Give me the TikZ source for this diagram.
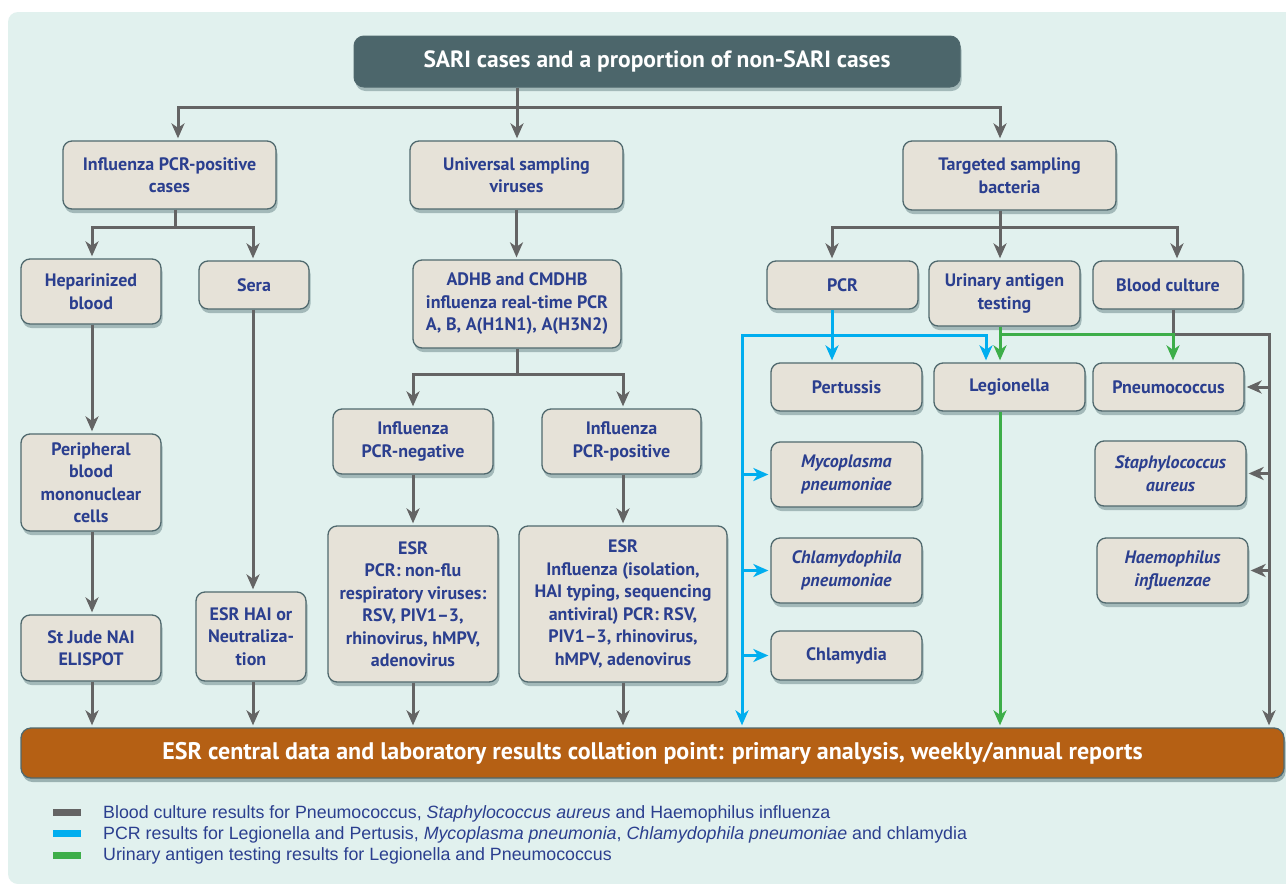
\documentclass[tikz,border=0pt]{standalone}
\usepackage{fontspec}
\setmainfont{PT Sans}
\newfontfamily\legfont{Liberation Sans}
\usetikzlibrary{arrows.meta,shadows}
\definecolor{panelc}{HTML}{E1F1EE}
\definecolor{boxfill}{HTML}{E6E2D8}
\definecolor{boxline}{HTML}{50696E}
\definecolor{txtblue}{HTML}{2B3F8F}
\definecolor{sarifill}{HTML}{4C666B}
\definecolor{esrfill}{HTML}{B56014}
\definecolor{gcol}{HTML}{646464}
\definecolor{bcol}{HTML}{00AEEF}
\definecolor{gncol}{HTML}{3DAE49}
\definecolor{shadowc}{HTML}{46666B}
\begin{document}
\begin{tikzpicture}[x=1pt,y=-1pt,
  bx/.style={draw=boxline, line width=1.3pt, fill=boxfill, rounded corners=9pt,
    text=txtblue, font=\bfseries\fontsize{18}{22.5}\selectfont, align=center, inner sep=0pt,
    drop shadow={shadow xshift=1.5pt, shadow yshift=-4pt, fill=shadowc, opacity=0.4}},
  itbx/.style={bx, font=\bfseries\itshape\fontsize{18}{22.5}\selectfont},
  topbx/.style={draw=boxline, line width=1pt, fill=sarifill, rounded corners=10pt,
    text=white, font=\bfseries\fontsize{23.5}{26}\selectfont, inner sep=0pt,
    drop shadow={shadow xshift=1.5pt, shadow yshift=-4pt, fill=shadowc, opacity=0.4}},
  esrbx/.style={draw=boxline, line width=1.3pt, fill=esrfill, rounded corners=10pt,
    text=white, font=\bfseries\fontsize{24}{26}\selectfont, inner sep=0pt,
    drop shadow={shadow xshift=1.5pt, shadow yshift=-4pt, fill=shadowc, opacity=0.45}},
  tipg/.style={-{Stealth[length=15pt,width=13pt,inset=4.5pt]}, shorten >=2pt},
  gline/.style={draw=gcol, line width=3pt},
  garr/.style={gline, tipg},
  bline/.style={draw=bcol, line width=3pt},
  barr/.style={bline, tipg},
  gnline/.style={draw=gncol, line width=3pt},
  gnarr/.style={gnline, tipg},
  swatch/.style={minimum width=28pt, minimum height=7.5pt, inner sep=0pt},
  legtext/.style={anchor=west, inner sep=0pt, text=txtblue, font=\legfont\fontsize{17.8}{20}\selectfont}
]
\useasboundingbox (0,0) rectangle (1286,884);
\fill[white] (0,0) rectangle (1286,884);
\fill[panelc, rounded corners=10pt] (8,12) rectangle (1300,884);

% nodes
\node[topbx, minimum width=606, minimum height=51] (sari) at (657,61.5) {SARI cases and a proportion of non-SARI cases};
\node[bx, minimum width=213, minimum height=68] (ipos) at (169.5,175) {Influenza PCR-positive\\cases};
\node[bx, minimum width=213, minimum height=68] (univ) at (516.5,175) {Universal sampling\\viruses};
\node[bx, minimum width=213, minimum height=69] (targ) at (1009.5,175.5) {Targeted sampling\\bacteria};
\node[bx, minimum width=140, minimum height=65] (hep) at (91,291.5) {Heparinized\\blood};
\node[bx, minimum width=110, minimum height=48] (sera) at (254,285) {Sera};
\node[bx, minimum width=140, minimum height=97] (pbmc) at (91,482.5) {Peripheral\\blood\\mononuclear\\cells};
\node[bx, minimum width=140, minimum height=66] (stj) at (91,648) {St Jude NAI\\ELISPOT};
\node[bx, minimum width=110, minimum height=89] (hai) at (251,636.5) {ESR HAI or\\Neutraliza-\\tion};
\node[bx, minimum width=208, minimum height=88] (adhb) at (517,304) {ADHB and CMDHB\\influenza real-time PCR\\A, B, A(H1N1), A(H3N2)};
\node[bx, minimum width=160, minimum height=65] (neg) at (413,441.5) {Influenza\\PCR-negative};
\node[bx, minimum width=159, minimum height=65] (pos2) at (621.5,441.5) {Influenza\\PCR-positive};
\node[bx, minimum width=170, minimum height=156] (esr1) at (413,604) {ESR\\PCR: non-flu\\respiratory viruses:\\RSV, PIV1--3,\\rhinovirus, hMPV,\\adenovirus};
\node[bx, minimum width=208, minimum height=156] (esr2) at (623,604) {ESR\\Influenza (isolation,\\HAI typing, sequencing\\antiviral) PCR: RSV,\\PIV1--3, rhinovirus,\\hMPV, adenovirus};
\node[bx, minimum width=151, minimum height=48] (pcr) at (842.5,285) {PCR};
\node[bx, minimum width=151, minimum height=65] (uat) at (1004.5,293.5) {Urinary antigen\\testing};
\node[bx, minimum width=150, minimum height=48] (bc) at (1168,285) {Blood culture};
\node[bx, minimum width=151, minimum height=48] (pert) at (846.5,387) {Pertussis};
\node[bx, minimum width=151, minimum height=48] (leg) at (1009.5,387) {Legionella};
\node[bx, minimum width=151, minimum height=48] (pneu) at (1168.5,387) {Pneumococcus};
\node[itbx, minimum width=151, minimum height=65] (myco) at (846.5,474.5) {Mycoplasma\\pneumoniae};
\node[itbx, minimum width=151, minimum height=65] (chla) at (846.5,570.5) {Chlamydophila\\pneumoniae};
\node[bx, minimum width=151, minimum height=49] (chlm) at (846.5,655.5) {Chlamydia};
\node[itbx, minimum width=151, minimum height=65] (staph) at (1170.5,473.5) {Staphylococcus\\aureus};
\node[itbx, minimum width=151, minimum height=65] (haem) at (1172.5,570.5) {Haemophilus\\influenzae};
\node[esrbx, minimum width=1263, minimum height=50] (esr) at (652.5,753) {ESR central data and laboratory results collation point: primary analysis, weekly/annual reports};

% junction coordinates
\coordinate (j0) at (517,107);
\coordinate (jA) at (175,227);
\coordinate (jB) at (517,374);
\coordinate (jC) at (1000,227);
\coordinate (jD) at (1173,334);
\coordinate (jE) at (1269,334);
\coordinate (bj) at (832,335);
\coordinate (bL) at (742,335);
\coordinate (bR) at (986,335);
\coordinate (gj) at (1000,334);
\coordinate (gR) at (1173,334);

% gray connectors
\draw[gline] (sari.south -| j0) -- (j0);
\draw[garr] (j0) -| ([xshift=8.5pt]ipos.north);
\draw[garr] (j0) -- (j0 |- univ.north);
\draw[garr] (j0) -| ([xshift=-9.5pt]targ.north);
\draw[gline] (ipos.south -| jA) -- (jA);
\draw[garr] (jA) -| ([xshift=1pt]hep.north);
\draw[garr] (jA) -| ([xshift=-1pt]sera.north);
\draw[garr] ([xshift=1pt]hep.south) -- ([xshift=1pt]pbmc.north);
\draw[garr] ([xshift=1pt]pbmc.south) -- ([xshift=1pt]stj.north);
\draw[garr] ([xshift=1pt]stj.south) -- ([xshift=1pt]stj.south |- esr.north);
\draw[garr] ([xshift=-1pt]sera.south) -- ([xshift=-1pt]sera.south |- hai.north);
\draw[garr] ([xshift=2pt]hai.south) -- ([xshift=2pt]hai.south |- esr.north);
\draw[garr] (univ.south) -- (univ.south |- adhb.north);
\draw[gline] (adhb.south -| jB) -- (jB);
\draw[garr] (jB) -| (neg.north);
\draw[garr] (jB) -| ([xshift=1.5pt]pos2.north);
\draw[garr] (neg.south) -- (esr1.north);
\draw[garr] ([xshift=1.5pt]pos2.south) -- (esr2.north);
\draw[garr] (esr1.south) -- (esr1.south |- esr.north);
\draw[garr] (esr2.south) -- (esr2.south |- esr.north);
\draw[gline] (targ.south -| jC) -- (jC);
\draw[garr] (jC) -| ([xshift=-10.5pt]pcr.north);
\draw[garr] (jC) -- (jC |- uat.north);
\draw[garr] (jC) -| ([xshift=9pt]bc.north);
\draw[garr] (bc.south -| jD) -- (jD) -- (jE) -- (jE |- esr.north);
\draw[garr] (jE |- pneu.east) -- (pneu.east);
\draw[garr] (jE |- staph.east) -- (staph.east);
\draw[garr] (jE |- haem.east) -- (haem.east);

% green connectors
\draw[gnline] (uat.south -| gj) -- (gj);
\draw[gnarr] (gj) -- (gj |- leg.north);
\draw[gnarr] (gj) -- (gR) -- (gR |- pneu.north);
\draw[gnarr] (leg.south -| gj) -- (gj |- esr.north);

% blue connectors
\draw[barr] (pcr.south -| bj) -- (pert.north -| bj);
\draw[barr] (bj) -- (bL) -- (bL |- esr.north);
\draw[barr] (bj) -- (bR) -- (bR |- leg.north);
\draw[barr] (bL |- myco.west) -- (myco.west);
\draw[barr] (bL |- chla.west) -- (chla.west);
\draw[barr] (bL |- chlm.west) -- (chlm.west);

% legend
\node[swatch, fill=gcol] (s1) at (67,812.5) {};
\node[swatch, fill=bcol] (s2) at (67,833.5) {};
\node[swatch, fill=gncol] (s3) at (67,855.5) {};
\node[legtext] (l1) at (103,814) {Blood culture results for Pneumococcus, \textit{Staphylococcus aureus} and Haemophilus influenza};
\node[legtext] (l2) at (103,834.5) {PCR results for Legionella and Pertusis, \textit{Mycoplasma pneumonia}, \textit{Chlamydophila pneumoniae} and chlamydia};
\node[legtext] (l3) at (103,855.5) {Urinary antigen testing results for Legionella and Pneumococcus};
\end{tikzpicture}
\end{document}
